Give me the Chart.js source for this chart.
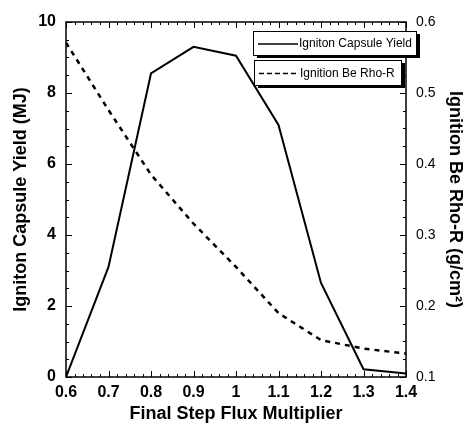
<!DOCTYPE html>
<html>
<head>
<meta charset="utf-8">
<script src="https://cdn.jsdelivr.net/npm/chart.js@4/dist/chart.umd.min.js"></script>
<style>
  body { margin: 0; background: #fff; }
  #wrap { width: 468px; height: 427px; }
</style>
</head>
<body>
<div id="wrap"><canvas id="graph"></canvas></div>
<script>
// data
const flux = [0.6, 0.7, 0.8, 0.9, 1.0, 1.1, 1.2, 1.3, 1.4];
const yieldMJ = [0, 3.1, 8.55, 9.3, 9.05, 7.1, 2.65, 0.22, 0.1];
const rhoR = [0.571, 0.476, 0.385, 0.316, 0.255, 0.19, 0.152, 0.14, 0.133];
const seriesNames = ['Igniton Capsule Yield', 'Ignition Be Rho-R'];

const FONT = "'Liberation Sans', Arial, sans-serif";

// inward ticks on all four sides
const tickPlugin = {
  id: 'inTicks',
  afterDraw(chart) {
    const ctx = chart.ctx, a = chart.chartArea;
    const x = chart.scales.x, yl = chart.scales.y, yr = chart.scales.y2;
    ctx.save();
    ctx.strokeStyle = '#000';
    ctx.lineWidth = 1;
    ctx.beginPath();
    for (let i = 0; i <= 40; i++) {
      const v = 0.6 + i * 0.02;
      const px = Math.round(x.getPixelForValue(v)) + 0.5;
      const len = i % 5 === 0 ? 6 : 3;
      ctx.moveTo(px, a.bottom); ctx.lineTo(px, a.bottom - len);
      ctx.moveTo(px, a.top); ctx.lineTo(px, a.top + len);
    }
    for (let i = 0; i <= 20; i++) {
      const py = Math.round(yl.getPixelForValue(i * 0.5)) + 0.5;
      const len = i % 4 === 0 ? 6 : 3;
      ctx.moveTo(a.left, py); ctx.lineTo(a.left + len, py);
    }
    for (let i = 0; i <= 20; i++) {
      const py = Math.round(yr.getPixelForValue(0.1 + i * 0.025)) + 0.5;
      const len = i % 4 === 0 ? 6 : 3;
      ctx.moveTo(a.right, py); ctx.lineTo(a.right - len, py);
    }
    ctx.stroke();
    ctx.lineWidth = 1.5;
    ctx.strokeRect(a.left, a.top, a.right - a.left, a.bottom - a.top);
    ctx.restore();
  }
};

// boxed legend entries with drop shadow
const boxLegend = {
  id: 'boxLegend',
  afterDraw(chart) {
    const ctx = chart.ctx;
    const boxes = [
      { x: 253, y: 31, w: 163, h: 24, dash: [] },
      { x: 254, y: 60, w: 147, h: 25, dash: [5, 3] }
    ];
    ctx.save();
    boxes.forEach((b, i) => {
      ctx.fillStyle = '#000';
      ctx.fillRect(b.x + 4, b.y + 3, b.w, b.h);
      ctx.fillStyle = '#fff';
      ctx.fillRect(b.x, b.y, b.w, b.h);
      ctx.setLineDash([]);
      ctx.lineWidth = 1;
      ctx.strokeStyle = '#000';
      ctx.strokeRect(b.x + 0.5, b.y + 0.5, b.w, b.h);
      ctx.lineWidth = 1.5;
      ctx.setLineDash(b.dash);
      ctx.beginPath();
      ctx.moveTo(b.x + 5, b.y + b.h / 2 + 1);
      ctx.lineTo(b.x + 45, b.y + b.h / 2 + 1);
      ctx.stroke();
      ctx.setLineDash([]);
      ctx.fillStyle = '#000';
      ctx.font = '12px ' + FONT;
      ctx.textBaseline = 'middle';
      ctx.fillText(seriesNames[i], b.x + 46, b.y + b.h / 2 + 1);
    });
    ctx.restore();
  }
};

const config = {
  type: 'line',
  data: {
    datasets: [
      {
        label: seriesNames[0],
        data: flux.map((f, i) => ({ x: f, y: yieldMJ[i] })),
        borderColor: '#000',
        borderWidth: 2,
        pointRadius: 0,
        yAxisID: 'y'
      },
      {
        label: seriesNames[1],
        data: flux.map((f, i) => ({ x: f, y: rhoR[i] })),
        borderColor: '#000',
        borderWidth: 2.5,
        borderDash: [5, 5],
        pointRadius: 0,
        yAxisID: 'y2'
      }
    ]
  },
  options: {
    responsive: true,
    maintainAspectRatio: false,
    animation: false,
    layout: { padding: { top: 22, left: 0, right: 0, bottom: 0 } },
    plugins: { legend: { display: false }, tooltip: { enabled: false } },
    scales: {
      x: {
        type: 'linear',
        min: 0.6, max: 1.4,
        grid: { display: false, drawTicks: false },
        border: { display: false },
        ticks: {
          stepSize: 0.1, color: '#000', padding: 6,
          font: { family: FONT, size: 16, weight: 'bold' },
          callback: v => String(Number(v.toFixed(1)))
        },
        title: {
          display: true, text: 'Final Step Flux Multiplier', color: '#000',
          font: { family: FONT, size: 18, weight: 'bold' }, padding: { top: 10, bottom: 2 }
        },
        afterFit: s => { s.height = 50; }
      },
      y: {
        position: 'left',
        min: 0, max: 10,
        grid: { display: false, drawTicks: false },
        border: { display: false },
        ticks: {
          stepSize: 2, color: '#000', padding: 10,
          font: { family: FONT, size: 16, weight: 'bold' }
        },
        title: {
          display: true, text: 'Igniton Capsule Yield (MJ)', color: '#000',
          font: { family: FONT, size: 18, weight: 'bold' }, padding: { top: 10, bottom: 4 }
        },
        afterFit: s => { s.width = 66; }
      },
      y2: {
        position: 'right',
        min: 0.1, max: 0.6,
        grid: { display: false, drawTicks: false },
        border: { display: false },
        ticks: {
          stepSize: 0.1, color: '#000', padding: 10,
          font: { family: FONT, size: 14 },
          callback: v => v.toFixed(1)
        },
        title: {
          display: true, text: 'Ignition Be Rho-R (g/cm²)', color: '#000',
          font: { family: FONT, size: 18, weight: 'bold' }, padding: { top: 2 }
        },
        afterFit: s => { s.width = 62; }
      }
    }
  },
  plugins: [tickPlugin, boxLegend]
};

const graph = document.querySelector('#graph');
new Chart(graph, config);
</script>
</body>
</html>
